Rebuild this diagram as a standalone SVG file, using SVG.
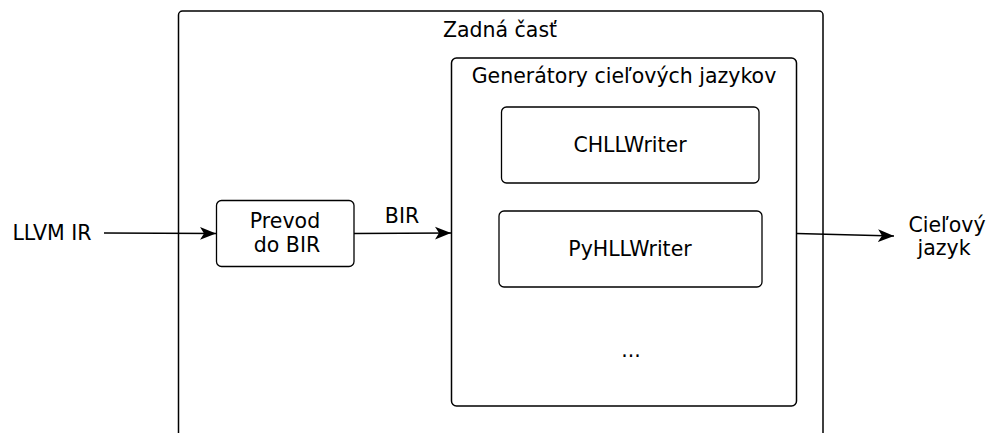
<svg xmlns="http://www.w3.org/2000/svg" width="1000" height="433" viewBox="0 0 1000 433">
<defs>
<style>
.box{fill:#fff;stroke:#000;stroke-width:1.5}
.sub{fill:#fff;stroke:#000;stroke-width:1.3}
text{font-family:"DejaVu Sans",sans-serif;font-size:20.5px;fill:#000;text-anchor:middle}
.conn{fill:none;stroke:#000;stroke-width:1.3}
</style>
<marker id="arr" viewBox="0 0 10 10" refX="10" refY="5" markerWidth="16" markerHeight="16" markerUnits="userSpaceOnUse" orient="auto">
<path d="M0,1 L10,5 L0,9 L2.5,5 Z" fill="#000"/>
</marker>
</defs>
<g id="zadna-cast">
<rect class="box" x="178.5" y="11" width="644.5" height="460" rx="4"/>
<text x="500" y="37">Zadná časť</text>
</g>
<g id="generatory">
<rect class="box" x="451.5" y="58" width="345" height="348" rx="5"/>
<text x="624" y="83">Generátory cieľových jazykov</text>
<text x="631" y="357">...</text>
</g>
<g id="chllwriter">
<rect class="sub" x="501.5" y="107" width="257.5" height="76" rx="5"/>
<text x="630" y="152">CHLLWriter</text>
</g>
<g id="pyhllwriter">
<rect class="sub" x="499" y="211" width="263" height="76" rx="5"/>
<text x="630" y="256">PyHLLWriter</text>
</g>
<g id="prevod">
<rect class="sub" x="216.5" y="200.5" width="137.5" height="66" rx="5"/>
<text x="285" y="228">Prevod</text>
<text x="287" y="252">do BIR</text>
</g>
<g id="llvm-ir">
<text x="52" y="240">LLVM IR</text>
</g>
<g id="ciel">
<text x="947" y="232">Cieľový</text>
<text x="944" y="255">jazyk</text>
</g>
<g id="connectors">
<path class="conn" d="M104,233 L216,233.5" marker-end="url(#arr)"/>
<path class="conn" d="M354,233.5 L451,233" marker-end="url(#arr)"/>
<text x="402" y="223">BIR</text>
<path class="conn" d="M796.5,233.5 L894,236" marker-end="url(#arr)"/>
</g>
</svg>
